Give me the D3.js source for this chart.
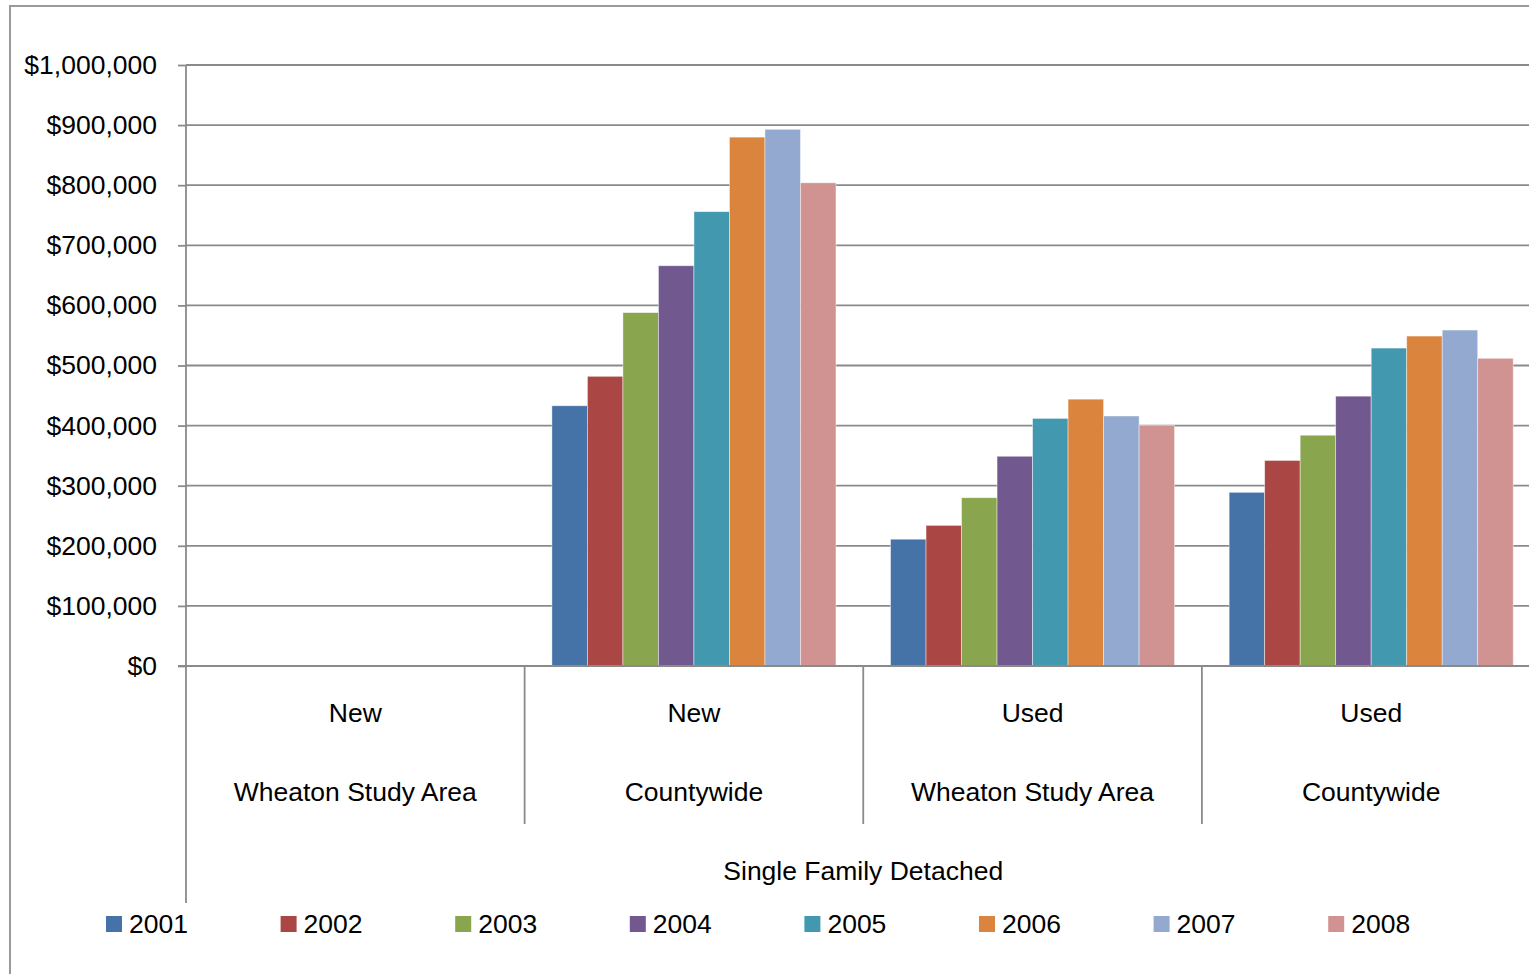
<!DOCTYPE html>
<html>
<head>
<meta charset="utf-8">
<script src="https://cdn.jsdelivr.net/npm/d3@7"></script>
<style>
  html, body { margin: 0; padding: 0; background: #fff; overflow: hidden; }
  svg { display: block; font-family: "Liberation Sans", Arial, sans-serif; }
</style>
</head>
<body>
<svg id="chart" width="1529" height="974"></svg>
<script>
// Median sale price, single family detached homes
const years = ["2001", "2002", "2003", "2004", "2005", "2006", "2007", "2008"];
const conditions = ["New", "New", "Used", "Used"];
const areas = ["Wheaton Study Area", "Countywide", "Wheaton Study Area", "Countywide"];
const housingType = "Single Family Detached";

// one array per year, in the order of the categories above (no new-home data for the study area)
const price2001 = [null, 433000, 211000, 289000];
const price2002 = [null, 482000, 234000, 342000];
const price2003 = [null, 588000, 280000, 384000];
const price2004 = [null, 666000, 349000, 449000];
const price2005 = [null, 756000, 412000, 529000];
const price2006 = [null, 880000, 444000, 549000];
const price2007 = [null, 893000, 416000, 559000];
const price2008 = [null, 804000, 400000, 512000];

const yTicks = [0, 100000, 200000, 300000, 400000, 500000, 600000, 700000, 800000, 900000, 1000000];
const colors = ["#4572A7", "#AA4643", "#89A54E", "#71588F", "#4198AF", "#DB843D", "#93A9CF", "#D19392"];

const priceByYear = [price2001, price2002, price2003, price2004, price2005, price2006, price2007, price2008];

const svg = d3.select("#chart");
const gridColor = "#8a8a8a";
const fontSize = 26.5;

// outer chart frame
svg.append("rect")
  .attr("x", 10).attr("y", 6)
  .attr("width", 1600).attr("height", 1100)
  .attr("fill", "#fff")
  .attr("stroke", "#9a9a9a")
  .attr("stroke-width", 2);

const plotLeft = 186, plotRight = 1540.5, plotTop = 65, plotBottom = 666;

const x = d3.scaleBand()
  .domain(d3.range(conditions.length))
  .range([plotLeft, plotRight])
  .paddingInner(0).paddingOuter(0);

const xYear = d3.scaleBand()
  .domain(years)
  .range([0, x.bandwidth()])
  .paddingInner(0)
  .paddingOuter(0.768);

const y = d3.scaleLinear().domain([0, 1000000]).range([plotBottom, plotTop]);

// horizontal gridlines
svg.append("g")
  .selectAll("line")
  .data(yTicks)
  .join("line")
  .attr("x1", plotLeft).attr("x2", plotRight)
  .attr("y1", d => y(d)).attr("y2", d => y(d))
  .attr("stroke", gridColor)
  .attr("stroke-width", 1.8);

// bars
const barData = [];
priceByYear.forEach((vals, yi) => {
  vals.forEach((v, gi) => {
    if (v != null) barData.push({ year: years[yi], group: gi, value: v, color: colors[yi] });
  });
});

svg.append("g")
  .selectAll("rect")
  .data(barData)
  .join("rect")
  .attr("x", d => x(d.group) + xYear(d.year))
  .attr("width", xYear.bandwidth())
  .attr("y", d => y(d.value))
  .attr("height", d => y(0) - y(d.value))
  .attr("fill", d => d.color)
  .attr("stroke", "rgba(255,255,255,0.55)")
  .attr("stroke-width", 0.8);

// value axis
const yAxis = d3.axisLeft(y)
  .tickValues(yTicks)
  .tickFormat(d => "$" + d3.format(",")(d))
  .tickSize(8)
  .tickPadding(21);

const yAxisG = svg.append("g")
  .attr("transform", `translate(${plotLeft},0)`)
  .call(yAxis);
yAxisG.select(".domain").remove();
yAxisG.selectAll(".tick line").attr("stroke", gridColor).attr("stroke-width", 1.8);
yAxisG.selectAll(".tick text")
  .attr("fill", "#000")
  .style("font-size", fontSize + "px")
  .style("font-family", "\"Liberation Sans\", Arial, sans-serif");

// vertical axis line, extended through the category label rows
svg.append("line")
  .attr("x1", plotLeft).attr("x2", plotLeft)
  .attr("y1", plotTop).attr("y2", 903)
  .attr("stroke", gridColor).attr("stroke-width", 1.8);

// category axis baseline
svg.append("line")
  .attr("x1", plotLeft - 8).attr("x2", plotRight)
  .attr("y1", y(0)).attr("y2", y(0))
  .attr("stroke", gridColor).attr("stroke-width", 1.8);

// separators between categories
svg.append("g")
  .selectAll("line")
  .data(d3.range(1, conditions.length + 1))
  .join("line")
  .attr("x1", d => x(d - 1) + x.bandwidth()).attr("x2", d => x(d - 1) + x.bandwidth())
  .attr("y1", y(0)).attr("y2", 824)
  .attr("stroke", gridColor).attr("stroke-width", 1.8);

// category labels (two rows)
const catLabels = svg.append("g")
  .attr("text-anchor", "middle")
  .style("font-size", fontSize + "px")
  .attr("fill", "#000");

catLabels.selectAll("text.cond")
  .data(conditions)
  .join("text")
  .attr("class", "cond")
  .attr("x", (d, i) => x(i) + x.bandwidth() / 2)
  .attr("y", 722)
  .text(d => d);

catLabels.selectAll("text.area")
  .data(areas)
  .join("text")
  .attr("class", "area")
  .attr("x", (d, i) => x(i) + x.bandwidth() / 2)
  .attr("y", 801)
  .text(d => d);

catLabels.append("text")
  .attr("x", (plotLeft + plotRight) / 2)
  .attr("y", 880)
  .text(housingType);

// legend
const legendX = d3.scaleBand()
  .domain(years)
  .range([106, 106 + 174.6 * years.length]);

const legend = svg.append("g")
  .selectAll("g")
  .data(years)
  .join("g")
  .attr("transform", d => `translate(${legendX(d)},0)`);

legend.append("rect")
  .attr("x", 0).attr("y", 916)
  .attr("width", 16).attr("height", 16)
  .attr("fill", (d, i) => colors[i]);

legend.append("text")
  .attr("x", 23).attr("y", 933)
  .style("font-size", fontSize + "px")
  .attr("fill", "#000")
  .text(d => d);
</script>
</body>
</html>
